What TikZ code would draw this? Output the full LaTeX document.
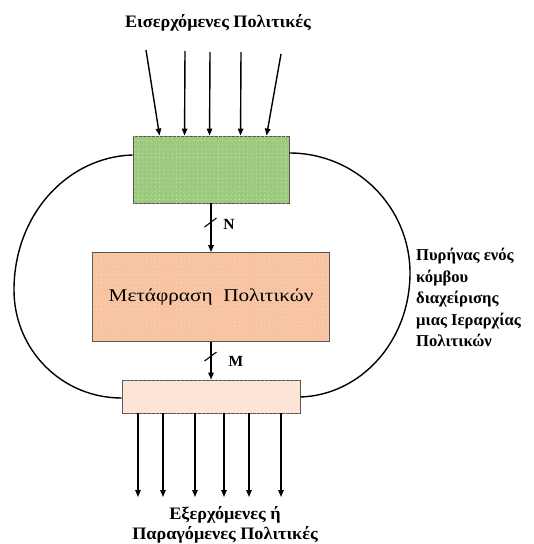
\documentclass[tikz,border=0pt]{standalone}
\usepackage{fontspec}
\setmainfont{Liberation Serif}
\newfontfamily\widerserif[FakeStretch=1.18]{Liberation Serif}
\newfontfamily\headserif[FakeStretch=1.04]{Liberation Serif}
\usetikzlibrary{arrows.meta,patterns.meta,calc}

\definecolor{inGreen}{HTML}{9DCB7E}
\definecolor{midSalmon}{HTML}{F8C3A0}
\definecolor{outPeach}{HTML}{FCE4D6}
\definecolor{boxEdge}{HTML}{5A5555}

\tikzset{
  policybox/.style={draw=boxEdge, line width=0.9pt, minimum width=#1, inner sep=0pt,
    postaction={pattern={Dots[distance=4.2pt,radius=0.45pt]}, pattern color=white!85!gray}},
  flow/.style={line width=1.4pt, -{Triangle[length=7pt,width=5.5pt]}},
  loop/.style={line width=1.4pt},
  tick/.style={line width=1.1pt},
  heading/.style={font=\headserif\bfseries\fontsize{17.5}{20}\selectfont, inner sep=0pt},
  buslabel/.style={font=\bfseries\fontsize{15.5}{17}\selectfont, inner sep=0pt},
}

\begin{document}
\begin{tikzpicture}[x=1pt,y=-1pt]
\useasboundingbox (0,0) rectangle (534,544);

% the three boxes of the node
\node[policybox=156pt, minimum height=67pt, fill=inGreen] (inbox) at (211,169.5) {};
\node[policybox=237pt, minimum height=89pt, fill=midSalmon,
      font=\widerserif\fontsize{18}{21}\selectfont] (trans) at (211,297) {Μετάφραση\ \ Πολιτικών};
\node[policybox=178pt, minimum height=33pt, fill=outPeach] (outbox) at (211,396.5) {};

% headings
\node[heading] (intitle) at (218,23) {Εισερχόμενες Πολιτικές};
\node[heading, align=center] (outtitle) at (225,525)
  {Εξερχόμενες ή\\Παραγόμενες Πολιτικές};
\node[inner sep=0pt, font=\bfseries\fontsize{16.6}{21.5}\selectfont, align=left, anchor=north west] (core) at (416,248)
  {Πυρήνας ενός\\κόμβου\\διαχείρισης\\μιας Ιεραρχίας\\Πολιτικών};

% incoming policies
\coordinate (i1) at (146,50);
\coordinate (i2) at (185,51);
\coordinate (i3) at (210,52);
\coordinate (i4) at (241,52);
\coordinate (i5) at (281,54);
\draw[flow] (i1) -- ([xshift=27pt]inbox.north west);
\draw[flow] (i2) -- ([xshift=52pt]inbox.north west);
\draw[flow] (i3) -- ([xshift=77pt]inbox.north west);
\draw[flow] (i4) -- ([xshift=108pt]inbox.north west);
\draw[flow] (i5) -- ([xshift=134pt]inbox.north west);

% outgoing policies
\foreach \k/\x in {1/138,2/163,3/195,4/224,5/249,6/281}{
  \coordinate (o\k) at (\x,497);
  \draw[flow] (outbox.south -| o\k) -- (o\k);
}

% internal connections with bus widths
\draw[flow] (inbox.south) -- (trans.north);
\draw[tick] (204.5,227) -- (216.5,218);
\node[buslabel] (nlab) at (229,224) {N};

\draw[flow] (trans.south) -- (outbox.north);
\draw[tick] (204.5,361) -- (216.5,352);
\node[buslabel] (mlab) at (236,361) {M};

% boundary of the node core
\draw[loop] ([yshift=14.5pt]inbox.west)
  .. controls (67,157) and (14,215) .. (14,290)
  .. controls (14,350) and (62,398) .. ([yshift=-1.5pt]outbox.west);
\draw[loop] ([yshift=16.5pt]inbox.east)
  .. controls (356,153) and (410,207) .. (410,273)
  .. controls (410,341) and (361,395) .. ([yshift=-0.5pt]outbox.east);
\end{tikzpicture}
\end{document}
